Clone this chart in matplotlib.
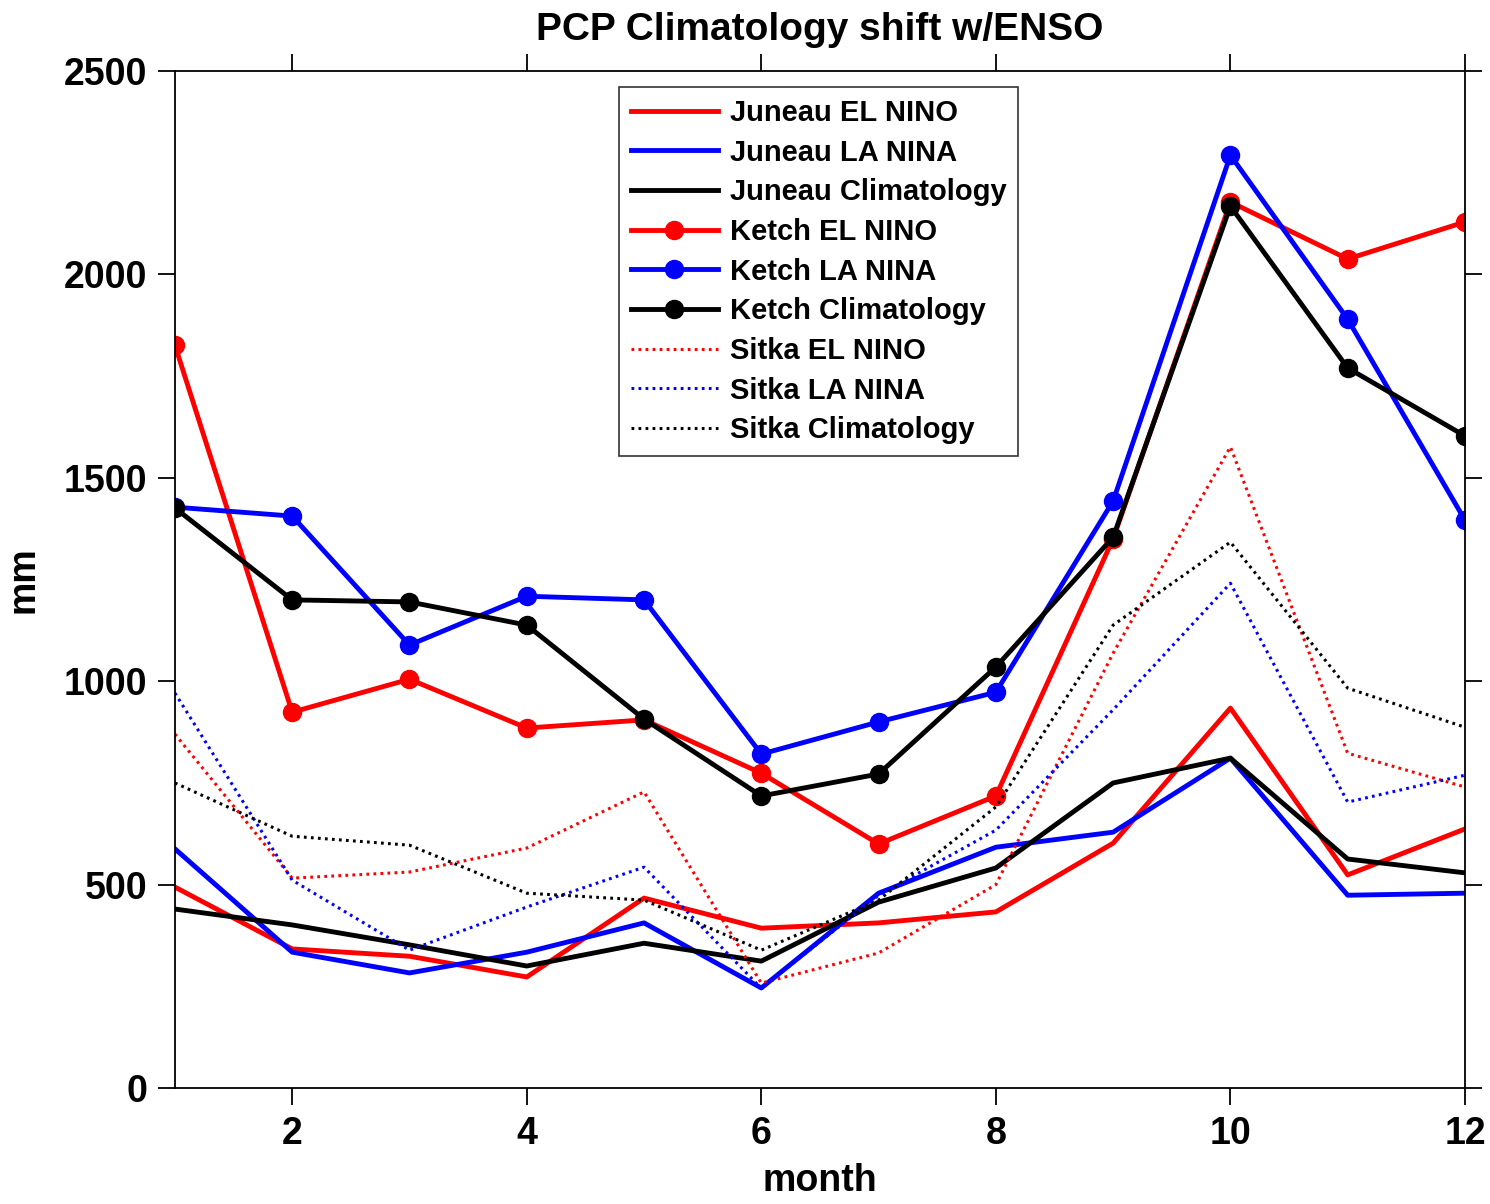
import numpy as np
import matplotlib.pyplot as plt

plt.rcParams['font.family'] = ['Liberation Sans', 'DejaVu Sans']
plt.rcParams['font.weight'] = 'bold'

month = np.arange(1, 13)

# Juneau (solid lines)
juneau_nino = [494, 342, 324, 273, 467, 393, 406, 433, 602, 934, 524, 637]
juneau_nina = [588, 334, 283, 334, 406, 246, 479, 592, 629, 811, 474, 479]
juneau_clim = [440, 401, 352, 300, 356, 312, 457, 541, 750, 811, 563, 529]

# Ketch (solid with dots)
ketch_nino = [1826, 924, 1005, 885, 905, 774, 600, 718, 1350, 2178, 2038, 2129]
ketch_nina = [1428, 1406, 1089, 1209, 1200, 821, 900, 973, 1443, 2293, 1890, 1396]
ketch_clim = [1426, 1200, 1195, 1138, 907, 718, 772, 1035, 1354, 2168, 1770, 1603]

# Sitka (dotted)
sitka_nino = [870, 516, 531, 590, 728, 258, 332, 500, 1069, 1576, 823, 740]
sitka_nina = [971, 511, 339, 445, 543, 245, 474, 634, 930, 1241, 703, 769]
sitka_clim = [750, 619, 597, 479, 462, 339, 462, 691, 1138, 1342, 983, 887]

fig = plt.figure(figsize=(14.9, 12.04), dpi=100)
ax = fig.add_axes([0.1174, 0.0963, 0.8658, 0.8447])

lw = 3.5
dot = (0, (0.9, 1.4))
ax.plot(month, juneau_nino, color='red', lw=lw, label='Juneau EL NINO')
ax.plot(month, juneau_nina, color='blue', lw=lw, label='Juneau LA NINA')
ax.plot(month, juneau_clim, color='black', lw=lw, label='Juneau Climatology')
ax.plot(month, ketch_nino, color='red', lw=lw, marker='o', ms=13, label='Ketch EL NINO')
ax.plot(month, ketch_nina, color='blue', lw=lw, marker='o', ms=13, label='Ketch LA NINA')
ax.plot(month, ketch_clim, color='black', lw=lw, marker='o', ms=13, label='Ketch Climatology')
ax.plot(month, sitka_nino, color='red', lw=2.2, ls=dot, label='Sitka EL NINO')
ax.plot(month, sitka_nina, color='blue', lw=2.2, ls=dot, label='Sitka LA NINA')
ax.plot(month, sitka_clim, color='black', lw=2.2, ls=dot, label='Sitka Climatology')

ax.set_xlim(1, 12)
ax.set_ylim(0, 2500)
ax.set_xticks(np.arange(2, 13, 2))
ax.set_yticks(np.arange(0, 2501, 500))
ax.tick_params(axis='both', which='both', direction='out', length=12, width=1.3,
               top=True, right=True, labelsize=27, pad=8)
for s in ax.spines.values():
    s.set_linewidth(1.3)

ax.set_title('PCP Climatology shift w/ENSO', fontsize=28, fontweight='bold', pad=22)
ax.set_xlabel('month', fontsize=27, fontweight='bold', labelpad=8)
ax.set_ylabel('mm', fontsize=27, fontweight='bold', labelpad=16)

leg = ax.legend(loc='upper center', bbox_to_anchor=(0.499, 0.984), fontsize=21,
                handlelength=3.0, frameon=True, fancybox=False, edgecolor='black',
                borderpad=0.4, labelspacing=0.4, handletextpad=0.4, borderaxespad=0)
leg.get_frame().set_linewidth(1.2)

fig.savefig('out.png', dpi=100)
